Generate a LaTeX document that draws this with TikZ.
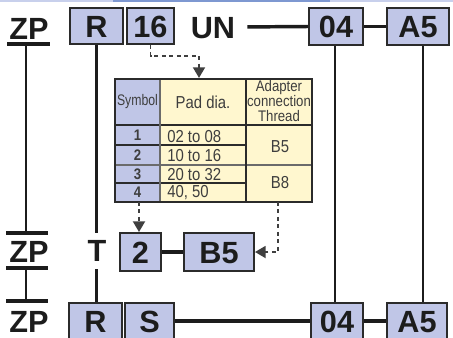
\documentclass[tikz,border=0pt]{standalone}
\usepackage{fontspec}
\setmainfont{Liberation Sans}
\newfontfamily\narrow[FakeStretch=0.86]{Liberation Sans}
\newfontfamily\symfont[FakeStretch=0.8]{Liberation Sans}
\usetikzlibrary{arrows.meta}
\definecolor{boxfill}{HTML}{C0C6E7}
\definecolor{cellyel}{HTML}{FFF7CF}
\definecolor{edge}{HTML}{2B2B2B}
\definecolor{dashc}{HTML}{3F3F3F}
\definecolor{topl}{HTML}{C8D0EC}
\definecolor{topd}{HTML}{7E98D1}
\definecolor{ink}{HTML}{1C1C1C}
\begin{document}
\begin{tikzpicture}[x=0.75pt,y=-0.75pt,
  box/.style={draw=edge, fill=boxfill, line width=1.5pt, inner sep=0pt,
    font=\bfseries\fontsize{23}{23}\selectfont, text=ink, text height=16.5pt, text depth=0pt},
  big/.style={inner sep=0pt, font=\bfseries\fontsize{23}{23}\selectfont, text=ink,
    text height=16.5pt, text depth=0pt},
  conn/.style={line width=2.6pt, draw=ink},
  vconn/.style={line width=2.1pt, draw=ink},
  dconn/.style={line width=1.4pt, draw=dashc, dash pattern=on 3pt off 2.6pt},
  tip/.style={-{Triangle[width=9pt,length=8pt,fill=dashc,color=dashc]}},
  tline/.style={line width=1.1pt, draw=edge},
  cell/.style={font=\narrow\fontsize{11.5}{11.25}\selectfont, inner sep=0pt, text=ink!85},
  val/.style={font=\narrow\fontsize{13}{12}\selectfont, inner sep=0pt, text=ink!85},
  num/.style={font=\narrow\bfseries\fontsize{11.5}{11.25}\selectfont, inner sep=0pt, text=ink!85}]
\clip (0,0) rectangle (453,337);
% top strip
\fill[topl] (0,0) rectangle (453,1.6);
\fill[topd] (113,0) rectangle (330,1.6);

% ---------- top row
\node[big] (zp1) at (29,28) {ZP};
\node[box, minimum width=53*0.75pt, minimum height=36*0.75pt] (r1) at (96.5,26) {R};
\node[box, minimum width=47*0.75pt, minimum height=36*0.75pt] (n16) at (150.5,26) {16};
\node[big] (un) at (213,27) {UN};
\node[box, minimum width=54*0.75pt, minimum height=37*0.75pt] (o1) at (336,26.5) {04};
\node[box, minimum width=62*0.75pt, minimum height=37*0.75pt] (a1) at (418,26.5) {A5};
\draw[conn, shorten <=9pt] (un.east) -- (o1.west);
\draw[conn] (o1.east) -- (a1.west);

% ---------- middle row
\node[big] (zp2) at (29,251) {ZP};
\node[big] (t2) at (97,250) {T};
\node[box, minimum width=41*0.75pt, minimum height=38*0.75pt] (two) at (140.5,252) {2};
\node[box, minimum width=70*0.75pt, minimum height=38*0.75pt] (b5) at (219,252) {B5};
\draw[conn] (two.east) -- (b5.west);

% ---------- bottom row
\node[big] (zp3) at (29,321) {ZP};
\node[box, minimum width=53*0.75pt, minimum height=36*0.75pt] (r3) at (95.5,321) {R};
\node[box, minimum width=49*0.75pt, minimum height=36*0.75pt] (s3) at (149.5,321) {S};
\node[box, minimum width=52*0.75pt, minimum height=36*0.75pt] (o3) at (337,321) {04};
\node[box, minimum width=60*0.75pt, minimum height=36*0.75pt] (a3) at (417,321) {A5};
\draw[conn] (s3.east) -- (o3.west);
\draw[conn] (o3.east) -- (a3.west);

% ---------- ZP bars and verticals
\draw[conn] (7,44) -- (50,44);
\draw[conn] (6,233) -- (48,233);
\draw[conn] (6,268) -- (48,268);
\draw[conn] (6,301) -- (48,301);
\draw[vconn] (26,44) -- (26,233);
\draw[vconn] (26,268) -- (26,301);
\draw[vconn] (r1.south) -- ([yshift=4pt]r1.south |- t2.north);
\draw[vconn] ([yshift=-6pt]r1.south |- t2.south) -- (r1.south |- r3.north);
\draw[vconn] ([xshift=-0.75pt]o1.south) -- ([xshift=-0.75pt]o1.south |- o3.north);
\draw[vconn] ([xshift=3.75pt]a1.south) -- ([xshift=3.75pt]a1.south |- a3.north);

% ---------- table
\fill[boxfill] (115,79) rectangle (160,202);
\fill[cellyel] (160,79) rectangle (312,202);
\draw[tline] (115,125) -- (312,125);
\draw[tline] (115,145) -- (246,145);
\draw[tline, draw=edge!70] (115,165) -- (312,165);
\draw[tline] (115,183) -- (246,183);
\draw[tline, draw=edge!70] (160,79) -- (160,202);
\draw[tline, line width=1.5pt] (246,79) -- (246,202);
\node[draw=edge, line width=1.6pt, minimum width=197*0.75pt, minimum height=123*0.75pt,
  inner sep=0pt] (tbl) at (213.5,140.5) {};

\node[cell, font=\symfont\fontsize{11.5}{11.25}\selectfont] (hsym) at (137.5,102) {Symbol};
\node[val] (hpad) at (203,102) {Pad dia.};
\node[cell, align=center] (hadp) at (279,101) {Adapter\\connection\\Thread};
\node[num] (k1) at (137.5,135) {1};
\node[num] (k2) at (137.5,155) {2};
\node[num] (k3) at (137.5,174) {3};
\node[num] (k4) at (137.5,192.5) {4};
\node[val, anchor=west] (p1) at (167,136.5) {02 to 08};
\node[val, anchor=west] (p2) at (167,156) {10 to 16};
\node[val, anchor=west] (p3) at (167,174.5) {20 to 32};
\node[val, anchor=west] (p4) at (167,192.5) {40, 50};
\node[val] (tb5) at (280,147) {B5};
\node[val] (tb8) at (280,183) {B8};

% ---------- dashed arrows
\coordinate (c1) at (199,56);
\coordinate (c2) at (278,202);
\coordinate (c3) at (139,202);
\draw[dconn, tip] (n16.south) |- (c1) -- (c1 |- tbl.north);
\draw[dconn, tip] (c3) -- (c3 |- two.north);
\draw[dconn, tip] (c2) |- (b5.east);
\end{tikzpicture}
\end{document}
